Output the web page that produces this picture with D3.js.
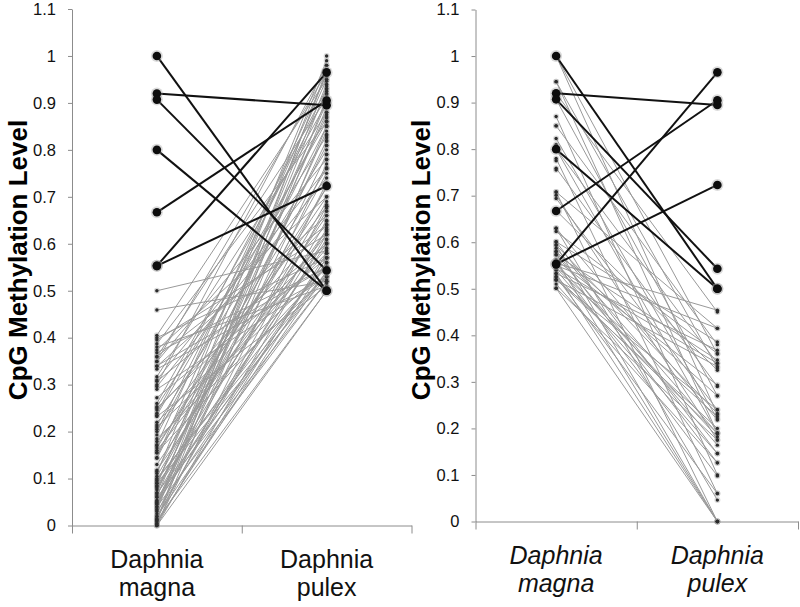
<!DOCTYPE html>
<html>
<head>
<meta charset="utf-8">
<script src="https://cdn.jsdelivr.net/npm/d3@7"></script>
<style>
  html, body { margin: 0; padding: 0; background: #fff; }
  svg { display: block; }
  text { font-family: "Liberation Sans", Arial, sans-serif; }
</style>
</head>
<body>
<svg id="chart" width="800" height="607"></svg>
<script>
// ---------------- DATA ----------------
const categories = [["Daphnia", "magna"], ["Daphnia", "pulex"]];
const yTicks = [0, 0.1, 0.2, 0.3, 0.4, 0.5, 0.6, 0.7, 0.8, 0.9, 1, 1.1];
const yLabel = "CpG Methylation Level";

// sites methylated (>0.5) in both species: black lines, same in both panels
const blackMagna = [1.0, 0.92, 0.907, 0.8, 0.667, 0.553, 0.553];
const blackPulex = [0.5, 0.895, 0.543, 0.5, 0.905, 0.965, 0.723];

// left panel: low in D. magna, high in D. pulex
const leftMagnaGray = [
  0.50, 0.459, 0.405, 0.395, 0.387, 0.374, 0.368, 0.359, 0.349, 0.339,
  0.333, 0.317, 0.307, 0.300, 0.296, 0.272, 0.253, 0.246, 0.239, 0.232,
  0.214, 0.205, 0.193, 0.179, 0.172, 0.165, 0.155, 0.143, 0.118, 0.111,
  0.105, 0.097, 0.090, 0.083, 0.076, 0.069, 0.061, 0.054, 0.047, 0.040,
  0.033, 0.019, 0.012, 0.005, 0.000,
  0.40, 0.38, 0.36, 0.34, 0.31, 0.29, 0.25, 0.235, 0.22, 0.20,
  0.185, 0.17, 0.16, 0.145, 0.115, 0.10, 0.095, 0.085, 0.08, 0.07,
  0.065, 0.06, 0.05, 0.045, 0.035, 0.03, 0.025, 0.02, 0.015, 0.01,
  0.008, 0.003, 0.0, 0.0, 0.012, 0.04, 0.09, 0.13, 0.26, 0.35,
  0.21, 0.155, 0.05
];
const leftPulexGray = [
  0.585, 0.52, 0.95, 0.62, 0.86, 0.70, 0.55, 0.91, 0.78, 0.66,
  0.53, 0.88, 0.60, 0.98, 0.74, 0.57, 0.83, 0.64, 0.93, 0.51,
  0.80, 0.68, 0.87, 0.59, 0.96, 0.76, 0.55, 0.85, 0.63, 0.99,
  0.72, 0.56, 0.90, 0.67, 0.82, 0.54, 0.94, 0.61, 0.79, 0.52,
  0.89, 0.65, 0.97, 0.58, 0.50,
  0.57, 0.51, 0.64, 0.55, 0.76, 0.53, 0.60, 0.86, 0.58, 0.92,
  0.53, 0.70, 0.62, 0.95, 0.81, 0.54, 0.75, 0.98, 0.60, 0.88,
  0.69, 0.52, 0.84, 0.63, 0.93, 0.57, 0.77, 0.54, 0.68, 0.91,
  0.56, 0.73, 0.62, 0.85, 0.50, 0.965, 0.53, 0.66, 0.90, 0.965,
  0.55, 0.72, 0.57
];
// left panel extra marker values on the D. pulex side
const leftPulexDots = [1.0, 0.957, 0.946, 0.936, 0.925, 0.918, 0.875, 0.868, 0.861, 0.852,
  0.833, 0.826, 0.818, 0.809, 0.79, 0.779, 0.762, 0.683, 0.676, 0.669, 0.648, 0.641,
  0.634, 0.626, 0.619, 0.609, 0.602, 0.591, 0.58, 0.57, 0.559, 0.53, 0.523, 0.517];

// right panel: high in D. magna, low in D. pulex
const rightMagnaGray = [
  1.0, 1.0, 0.945, 0.945, 0.92, 0.907, 0.87, 0.85, 0.823, 0.80,
  0.80, 0.78, 0.759, 0.708, 0.708, 0.701, 0.694, 0.668, 0.63, 0.63,
  0.623, 0.601, 0.601, 0.594, 0.594, 0.587, 0.58, 0.58, 0.573, 0.573,
  0.562, 0.562, 0.555, 0.555, 0.555, 0.544, 0.544, 0.533, 0.533, 0.526,
  0.526, 0.519, 0.519, 0.501, 0.501, 0.51, 0.52, 0.55, 0.54
];
const rightPulexGray = [
  0.36, 0.23, 0.19, 0.33, 0.45, 0.27, 0.10, 0.38, 0.22, 0.19,
  0.34, 0.06, 0.29, 0.415, 0.0, 0.175, 0.24, 0.325, 0.046, 0.218,
  0.361, 0.146, 0.386, 0.0, 0.232, 0.189, 0.27, 0.126, 0.347, 0.164,
  0.0, 0.293, 0.182, 0.454, 0.098, 0.225, 0.34, 0.0, 0.368, 0.189,
  0.06, 0.24, 0.333, 0.0, 0.175, 0.126, 0.2, 0.415, 0.146
];
const rightMagnaDots = [0.85, 0.81, 0.775, 0.755];

// ---------------- DRAW ----------------
const svg = d3.select("#chart");

function drawPanel(cfg) {
  const g = svg.append("g");
  const y = d3.scaleLinear().domain([0, 1.1]).range([cfg.yBottom, cfg.yTop]);
  const xEdge = d3.scaleLinear().domain([0, categories.length]).range([cfg.xLeft, cfg.xRight]);
  const band = d3.scaleBand().domain(d3.range(categories.length)).range([cfg.xLeft, cfg.xRight]);
  const cx = i => band(i) + band.bandwidth() / 2;

  // y axis
  const ya = g.append("g")
    .attr("transform", `translate(${cfg.xLeft},0)`)
    .call(d3.axisLeft(y).tickValues(yTicks).tickSize(4).tickSizeOuter(0).tickPadding(12)
      .tickFormat(d => String(d)));
  ya.selectAll("path, line").attr("stroke", "#8c8c8c");
  ya.selectAll("text").attr("font-size", 16.5).attr("fill", "#111")
    .style("font-family", '"Liberation Sans", Arial, sans-serif');

  // x axis (ticks at category boundaries)
  const xa = g.append("g")
    .attr("transform", `translate(0,${cfg.yBottom})`)
    .call(d3.axisBottom(xEdge).tickValues(d3.range(categories.length + 1)).tickSize(8)
      .tickSizeOuter(0).tickFormat(""));
  xa.selectAll("path, line").attr("stroke", "#8c8c8c");

  // category labels (one text per line)
  categories.forEach((lines, i) => {
    lines.forEach((s, k) => {
      g.append("text")
        .attr("x", cx(i))
        .attr("y", cfg.yBottom + 42 + k * 28)
        .attr("text-anchor", "middle")
        .attr("font-size", 25)
        .attr("fill", "#111")
        .style("font-style", cfg.italic ? "italic" : "normal")
        .text(s);
    });
  });

  // y label
  g.append("text")
    .attr("transform", `translate(${cfg.labelX},260) rotate(-90)`)
    .attr("text-anchor", "middle")
    .attr("font-size", 26)
    .attr("font-weight", "bold")
    .attr("fill", "#000")
    .text(yLabel);

  // gray lines
  const grayPairs = cfg.grayA.map((a, i) => [a, cfg.grayB[i]]);
  g.append("g").selectAll("line").data(grayPairs).join("line")
    .attr("x1", cx(0)).attr("x2", cx(1))
    .attr("y1", d => y(d[0])).attr("y2", d => y(d[1]))
    .attr("stroke", "#999").attr("stroke-width", 1);

  // black lines
  const blackPairs = blackMagna.map((a, i) => [a, blackPulex[i]]);
  g.append("g").selectAll("line").data(blackPairs).join("line")
    .attr("x1", cx(0)).attr("x2", cx(1))
    .attr("y1", d => y(d[0])).attr("y2", d => y(d[1]))
    .attr("stroke", "#111").attr("stroke-width", 2);

  // small dots
  const smallDots = [];
  cfg.grayA.forEach(v => smallDots.push([0, v]));
  cfg.grayB.forEach(v => smallDots.push([1, v]));
  (cfg.extraA || []).forEach(v => smallDots.push([0, v]));
  (cfg.extraB || []).forEach(v => smallDots.push([1, v]));
  const dg = g.append("g");
  dg.selectAll("circle.halo").data(smallDots).join("circle").attr("class", "halo")
    .attr("cx", d => cx(d[0])).attr("cy", d => y(d[1])).attr("r", 3)
    .attr("fill", "#999").attr("opacity", 0.35);
  dg.selectAll("circle.dot").data(smallDots).join("circle").attr("class", "dot")
    .attr("cx", d => cx(d[0])).attr("cy", d => y(d[1])).attr("r", 1.7)
    .attr("fill", "#2a2a2a");

  // big dots
  const bigDots = [];
  blackMagna.forEach(v => bigDots.push([0, v]));
  blackPulex.forEach(v => bigDots.push([1, v]));
  const bg = g.append("g");
  bg.selectAll("circle.halo").data(bigDots).join("circle").attr("class", "halo")
    .attr("cx", d => cx(d[0])).attr("cy", d => y(d[1])).attr("r", 6)
    .attr("fill", "#999").attr("opacity", 0.35);
  bg.selectAll("circle.dot").data(bigDots).join("circle").attr("class", "dot")
    .attr("cx", d => cx(d[0])).attr("cy", d => y(d[1])).attr("r", 4.3)
    .attr("fill", "#0d0d0d");
}

drawPanel({
  xLeft: 72, xRight: 411.5, yTop: 9, yBottom: 525.5, labelX: 27, italic: false,
  grayA: leftMagnaGray, grayB: leftPulexGray, extraB: leftPulexDots
});
drawPanel({
  xLeft: 475.5, xRight: 798, yTop: 9.5, yBottom: 521.5, labelX: 430, italic: true,
  grayA: rightMagnaGray, grayB: rightPulexGray, extraA: rightMagnaDots
});
</script>
</body>
</html>
